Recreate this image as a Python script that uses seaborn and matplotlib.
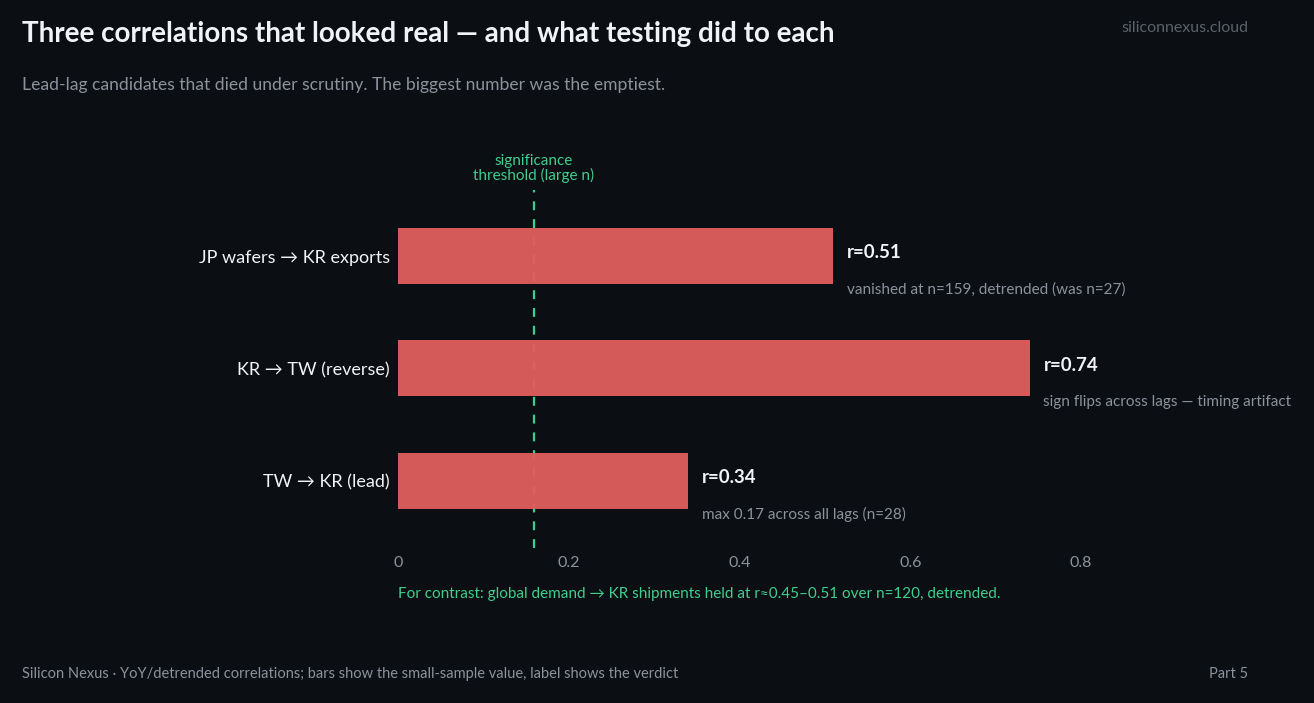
import matplotlib
matplotlib.use('Agg')
import numpy as np
import pandas as pd
import seaborn as sns
import matplotlib.pyplot as plt

# data
pairs = ['JP wafers → KR exports', 'KR → TW (reverse)', 'TW → KR (lead)']
r_vals = [0.51, 0.74, 0.34]
verdicts = ['vanished at n=159, detrended (was n=27)',
            'sign flips across lags — timing artifact',
            'max 0.17 across all lags (n=28)']
threshold = 0.159
xticks = [0, 0.2, 0.4, 0.6, 0.8]
xtick_labels = ['0', '0.2', '0.4', '0.6', '0.8']

BG = '#0b0e13'
BAR = '#de5e5e'
GREEN = '#3ecf8e'
WHITE = '#f1f3f6'
GREY = '#8c929c'
DIM = '#5b616b'

sns.set_style('dark')
plt.rcParams['font.family'] = ['Lato', 'DejaVu Sans']

df = pd.DataFrame({'pair': pairs, 'r': r_vals})

fig = plt.figure(figsize=(13.14, 7.03), dpi=100, facecolor=BG)
ax = fig.add_axes([398 / 1314, 1 - 548 / 703, 683 / 1314, (548 - 190) / 703])
ax.set_facecolor(BG)

ax.axvline(threshold, color=GREEN, ls=(0, (4, 4)), lw=1.6, zorder=0)
sns.barplot(data=df, x='r', y='pair', orient='h', color=BAR, width=0.5,
            saturation=1, alpha=0.96, linewidth=0, ax=ax, zorder=2)

ax.set_xlim(0, 0.8)
ax.set_ylim(2.6, -0.59)
ax.set_xticks(xticks)
ax.set_xticklabels(xtick_labels)
ax.tick_params(axis='x', colors=GREY, labelsize=11.5, length=0, pad=6)
ax.tick_params(axis='y', colors=WHITE, labelsize=13, length=0, pad=6)
ax.set_xlabel('')
ax.set_ylabel('')
ax.grid(False)
for s in ax.spines.values():
    s.set_visible(False)

for i, (r, note) in enumerate(zip(r_vals, verdicts)):
    ax.text(r + 0.016, i - 0.03, f'r={r:.2f}', color=WHITE, fontsize=13.5,
            fontweight='bold', va='center', ha='left', clip_on=False)
    ax.text(r + 0.016, i + 0.3, note, color=GREY, fontsize=11,
            va='center', ha='left', clip_on=False)

ax.text(threshold, -0.78, 'significance\nthreshold (large n)', color=GREEN,
        fontsize=11, ha='center', va='center', linespacing=1.0, clip_on=False)

fig.text(398 / 1314, 1 - 594 / 703,
         'For contrast: global demand → KR shipments held at r≈0.45–0.51 over n=120, detrended.',
         color=GREEN, fontsize=11, ha='left', va='center')

fig.text(22 / 1314, 1 - 34 / 703, 'Three correlations that looked real — and what testing did to each',
         color=WHITE, fontsize=20, fontweight='bold', ha='left', va='center')
fig.text(22 / 1314, 1 - 85 / 703,
         'Lead-lag candidates that died under scrutiny. The biggest number was the emptiest.',
         color=GREY, fontsize=12.6, ha='left', va='center')
fig.text(1248 / 1314, 1 - 28 / 703, 'siliconnexus.cloud', color=DIM, fontsize=11.5,
         ha='right', va='center')
fig.text(22 / 1314, 1 - 674 / 703,
         'Silicon Nexus · YoY/detrended correlations; bars show the small-sample value, label shows the verdict',
         color=GREY, fontsize=10.5, ha='left', va='center')
fig.text(1248 / 1314, 1 - 674 / 703, 'Part 5', color=GREY, fontsize=10.5,
         ha='right', va='center')

fig.savefig('out.png', dpi=100, facecolor=BG)
